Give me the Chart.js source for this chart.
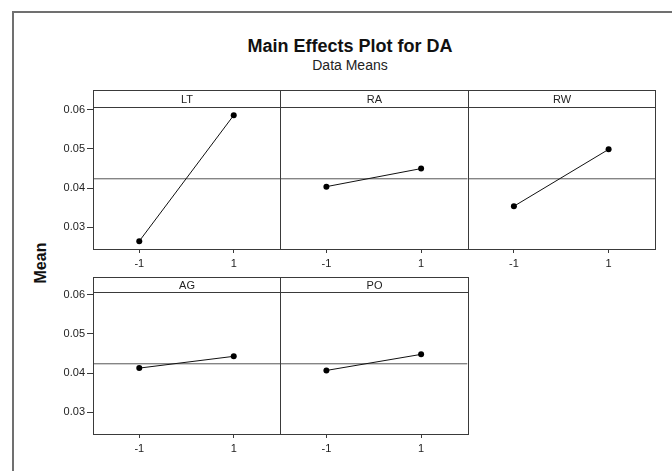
<!DOCTYPE html>
<html>
<head>
<meta charset="utf-8">
<script src="https://cdn.jsdelivr.net/npm/chart.js@4/dist/chart.umd.min.js"></script>
<style>
  body { margin: 0; background: #fff; }
  #wrap { position: relative; width: 672px; height: 471px; overflow: hidden; background: #fff; font-family: "Liberation Sans", Arial, sans-serif; }
  #frame { position: absolute; left: 12px; top: 11px; width: 720px; height: 520px; border: 2px solid #707070; }
  .txt { position: absolute; white-space: nowrap; color: #111; }
  #title { left: 0; width: 700px; top: 37px; text-align: center; font-weight: bold; font-size: 18px; line-height: 18px; }
  #subtitle { left: 0; width: 700px; top: 58px; text-align: center; font-size: 14px; line-height: 14px; color: #222; }
  #ylab { left: 41px; top: 263px; font-weight: bold; font-size: 16px; transform: translate(-50%, -50%) rotate(-90deg); }
  canvas { position: absolute; left: 0; top: 0; }
</style>
</head>
<body>
<div id="wrap">
  <div id="frame"></div>
  <div class="txt" id="title">Main Effects Plot for DA</div>
  <div class="txt" id="subtitle">Data Means</div>
  <div class="txt" id="ylab">Mean</div>
</div>
<script>
// factor names and the two level means
var factors = ['LT', 'RA', 'RW', 'AG', 'PO'];
var levels = [-1, 1];
var lowMeans = [0.0265, 0.0404, 0.0354, 0.0413, 0.0407];
var highMeans = [0.0586, 0.0450, 0.0499, 0.0443, 0.0448];
var grandMean = 0.0424;
var yTicks = [0.03, 0.04, 0.05, 0.06];
var yMin = 0.0245, yMax = 0.0607;
var xMin = -1.98, xMax = 1.98;

// panel boxes: columns [left, right], rows [headerTop, plotTop, plotBottom]
var cols = [[93, 280], [280, 467.5], [467.5, 655]];
var rows = [[90, 107, 249], [277, 292, 434]];

Chart.defaults.font.family = '"Liberation Sans", Arial, sans-serif';
Chart.defaults.font.size = 11;
Chart.defaults.color = '#222';

var panelPlugin = {
  id: 'panelBox',
  afterDraw: function(chart, args, opts) {
    var ctx = chart.ctx;
    var a = chart.chartArea;
    var l = Math.round(a.left) + 0.5, r = Math.round(a.right) + 0.5;
    var t = Math.round(a.top) + 0.5, b = Math.round(a.bottom) + 0.5;
    var h = Math.round(opts.headerTop) + 0.5;
    ctx.save();
    ctx.strokeStyle = '#3a3a3a';
    ctx.lineWidth = 1;
    ctx.strokeRect(l, h, r - l, b - h);
    ctx.beginPath();
    ctx.moveTo(l, t);
    ctx.lineTo(r, t);
    ctx.stroke();
    ctx.fillStyle = '#222';
    ctx.font = '11px "Liberation Sans", Arial, sans-serif';
    ctx.textAlign = 'center';
    ctx.textBaseline = 'middle';
    ctx.fillText(opts.label, (l + r) / 2, (h + t) / 2 + 0.5);
    ctx.restore();
  }
};

var wrap = document.getElementById('wrap');

factors.forEach(function(name, i) {
  var col = i % 3, row = Math.floor(i / 3);
  var x0 = cols[col][0], x1 = cols[col][1];
  var hTop = rows[row][0], y0 = rows[row][1], y1 = rows[row][2];
  var canvas = document.createElement('canvas');
  canvas.width = 672;
  canvas.height = 471;
  wrap.appendChild(canvas);

  new Chart(canvas, {
    type: 'line',
    data: {
      datasets: [
        {
          data: [{x: levels[0], y: lowMeans[i]}, {x: levels[1], y: highMeans[i]}],
          borderColor: '#111',
          borderWidth: 1,
          pointRadius: 3,
          pointBackgroundColor: '#000',
          pointBorderColor: '#000',
          pointBorderWidth: 0
        },
        {
          data: [{x: xMin, y: grandMean}, {x: xMax, y: grandMean}],
          borderColor: '#555',
          borderWidth: 1,
          pointRadius: 0
        }
      ]
    },
    options: {
      responsive: false,
      animation: false,
      events: [],
      layout: {
        padding: { left: col === 0 ? 0 : x0, right: 672 - x1, top: y0, bottom: 471 - y1 - 22 }
      },
      plugins: {
        legend: { display: false },
        tooltip: { enabled: false },
        panelBox: { label: name, headerTop: hTop }
      },
      scales: {
        x: {
          type: 'linear',
          min: xMin,
          max: xMax,
          afterBuildTicks: function(scale) {
            scale.ticks = levels.map(function(v) { return {value: v}; });
          },
          afterFit: function(scale) { scale.height = 22; },
          ticks: { padding: 4, color: '#222', callback: function(v) { return String(v); } },
          grid: { drawOnChartArea: false, drawTicks: true, tickLength: 4, color: '#3a3a3a' },
          border: { display: false }
        },
        y: {
          display: col === 0,
          min: yMin,
          max: yMax,
          afterBuildTicks: function(scale) {
            scale.ticks = yTicks.map(function(v) { return {value: v}; });
          },
          afterFit: function(scale) { scale.width = col === 0 ? x0 : 0; },
          ticks: { padding: 2, color: '#222', callback: function(v) { return v.toFixed(2); } },
          grid: { drawOnChartArea: false, drawTicks: true, tickLength: 6, color: '#3a3a3a' },
          border: { display: false }
        }
      }
    },
    plugins: [panelPlugin]
  });
});
</script>
</body>
</html>
